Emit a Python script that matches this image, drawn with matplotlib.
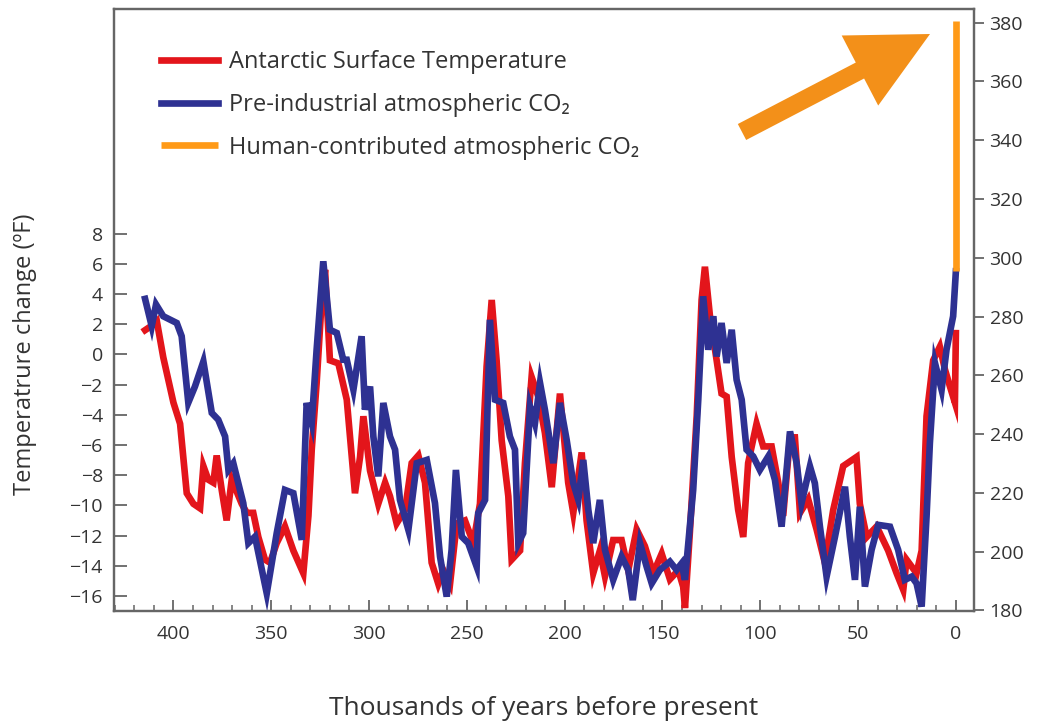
import numpy as np
import matplotlib
matplotlib.use("Agg")
import matplotlib.pyplot as plt
from matplotlib.patches import FancyArrow
from matplotlib.transforms import IdentityTransform

plt.rcParams["font.family"] = ["Open Sans", "DejaVu Sans"]

# Antarctic temperature (deg F) vs thousands of years before present
temp_kyr = [414.5, 411.1, 408.5, 405.2, 400.0, 396.6, 393.2, 389.8, 386.4, 384.7,
            382.2, 379.6, 377.9, 375.3, 372.8, 370.2, 365.1, 362.5, 359.2, 356.6,
            353.2, 350.6, 347.2, 343.0, 338.7, 333.6, 331.0, 329.3, 326.8, 324.2,
            322.5, 320.0, 315.7, 311.4, 307.2, 304.6, 302.9, 299.5, 295.3, 291.8,
            289.3, 285.9, 281.6, 278.2, 274.8, 271.4, 268.0, 264.6, 262.0, 258.6,
            255.2, 251.0, 246.7, 243.3, 239.9, 237.3, 234.8, 232.2, 228.8, 227.1,
            222.8, 220.3, 216.9, 213.5, 210.1, 206.6, 202.4, 198.2, 195.6, 191.3,
            188.8, 185.4, 182.0, 179.4, 175.2, 170.9, 167.5, 163.2, 159.0, 154.7,
            150.4, 146.2, 141.9, 139.4, 138.5, 136.0, 132.5, 130.0, 128.3, 125.7,
            122.3, 119.8, 117.2, 114.6, 111.3, 108.7, 106.2, 101.9, 98.5, 94.2,
            90.8, 88.3, 84.8, 82.3, 79.7, 75.5, 71.2, 67.0, 62.7, 57.6,
            50.8, 49.1, 45.6, 40.5, 34.6, 30.3, 26.9, 25.2, 20.1, 17.5,
            15.0, 11.6, 8.2, 5.6, 3.1, 0.5, 0.0]
temp_f = [1.6, 1.9, 2.2, -0.2, -3.2, -4.6, -9.2, -9.9, -10.2, -7.4,
          -8.3, -8.5, -6.7, -9.0, -11.0, -8.3, -9.9, -10.5, -10.5, -12.1,
          -13.6, -13.8, -12.5, -11.4, -13.0, -14.5, -10.7, -6.3, -1.9, 3.6,
          5.6, -0.4, -0.6, -3.0, -9.2, -6.8, -4.1, -7.7, -9.9, -8.5,
          -9.4, -11.2, -10.3, -7.2, -6.7, -8.5, -13.8, -15.2, -14.3, -15.2,
          -11.2, -11.0, -12.5, -9.9, -0.8, 3.6, -0.4, -5.7, -9.4, -13.6,
          -13.0, -7.2, -1.5, -2.8, -5.2, -8.8, -2.6, -8.5, -10.5, -6.5,
          -11.0, -14.5, -13.0, -14.7, -12.3, -12.3, -14.3, -11.6, -12.7, -14.5,
          -13.2, -14.9, -14.3, -15.4, -16.8, -11.8, -4.1, 3.6, 5.8, 2.5,
          -0.4, -2.6, -2.8, -6.8, -10.3, -12.1, -7.2, -4.6, -6.1, -6.1,
          -8.5, -10.7, -5.5, -5.5, -10.5, -9.6, -11.6, -13.8, -10.3, -7.4,
          -6.8, -9.9, -12.1, -11.4, -13.0, -14.5, -15.6, -13.6, -14.5, -13.0,
          -4.1, -0.4, 0.5, -1.0, -2.1, -3.2, 1.4]

# Pre-industrial CO2 (ppm)
co2_kyr = [414.5, 411.1, 408.9, 405.2, 398.3, 395.8, 392.4, 389.0, 384.7, 380.4,
           377.1, 373.6, 371.9, 369.4, 364.3, 361.7, 358.3, 352.3, 347.2, 343.0,
           338.7, 334.4, 331.9, 329.3, 326.8, 323.4, 320.0, 316.5, 313.2, 311.4,
           308.0, 303.8, 302.1, 299.5, 297.8, 295.3, 292.7, 289.3, 286.7, 284.2,
           279.9, 275.6, 270.5, 266.3, 263.7, 260.3, 257.8, 255.6, 252.6, 249.3,
           245.0, 244.2, 240.7, 238.2, 235.6, 231.4, 228.0, 225.4, 223.7, 221.2,
           217.7, 215.2, 212.6, 210.1, 205.8, 202.4, 199.0, 195.6, 193.0, 190.5,
           187.9, 185.4, 182.0, 179.4, 175.2, 170.9, 167.5, 165.2, 161.5, 158.1,
           155.5, 151.3, 146.2, 142.8, 140.2, 138.5, 136.8, 134.3, 131.7, 129.2,
           126.6, 124.0, 122.3, 119.8, 117.2, 114.6, 112.1, 109.5, 107.0, 103.6,
           100.2, 95.9, 92.5, 89.1, 84.8, 81.4, 78.9, 74.6, 72.1, 69.5,
           66.1, 61.8, 56.7, 54.2, 51.6, 49.1, 46.5, 43.1, 39.7, 33.7,
           29.5, 26.1, 22.6, 20.1, 17.5, 15.0, 13.3, 10.7, 7.3, 4.8,
           1.4, 0.0]
co2_ppm = [286.0, 276.7, 284.1, 280.1, 277.8, 273.3, 250.7, 256.2, 264.7, 247.2,
           244.9, 239.2, 227.8, 230.1, 216.5, 202.9, 205.1, 185.8, 206.3, 221.0,
           219.9, 204.0, 250.6, 243.7, 268.7, 298.8, 275.5, 274.4, 265.3, 265.3,
           255.1, 273.3, 248.3, 256.2, 239.2, 225.6, 250.6, 239.2, 234.7, 217.6,
           207.4, 230.1, 231.2, 216.5, 198.3, 184.7, 200.6, 227.8, 205.1, 202.9,
           194.9, 213.1, 217.6, 278.9, 251.7, 250.6, 239.2, 234.7, 202.9, 206.3,
           249.4, 243.7, 257.4, 248.3, 230.1, 250.6, 238.1, 223.3, 217.6, 231.2,
           214.2, 202.9, 217.6, 200.6, 190.4, 198.3, 193.8, 183.5, 202.9, 194.9,
           189.2, 193.8, 196.6, 193.8, 196.0, 190.4, 202.9, 221.0, 251.7, 286.9,
           268.7, 280.1, 266.4, 277.8, 264.2, 275.5, 258.5, 251.7, 234.7, 232.4,
           227.8, 232.4, 224.4, 208.5, 240.9, 230.1, 216.5, 229.0, 223.3, 208.5,
           191.5, 205.1, 222.1, 205.1, 190.4, 215.3, 188.1, 200.6, 209.1, 208.5,
           200.6, 190.4, 191.5, 189.2, 181.3, 211.9, 236.9, 264.2, 255.1, 268.7,
           280.1, 295.4]

# Human-contributed CO2 (ppm)
human_kyr = [0.0, 0.0]
human_ppm = [295.4, 380.5]

red = "#e3151b"
blue = "#2e3192"
orange = "#ff9a17"
arrow_orange = "#f39019"
grey = "#666666"
txt = "#333333"

fig = plt.figure(figsize=(10.39, 7.23), dpi=100)
ax = fig.add_axes([0.1097, 0.1549, 0.8280, 0.8333])
ax2 = ax.twinx()

l1, = ax.plot(temp_kyr, temp_f, color=red, lw=4.8, solid_joinstyle="miter",
              label="Antarctic Surface Temperature")
l2, = ax2.plot(co2_kyr, co2_ppm, color=blue, lw=4.8, solid_joinstyle="miter",
               label="Pre-industrial atmospheric CO\u2082")
l3, = ax2.plot(human_kyr, human_ppm, color=orange, lw=4.8, solid_capstyle="butt",
               label="Human-contributed atmospheric CO\u2082")

ax.set_xlim(430.4, -9.4)
ax.set_ylim(-17.0, 22.9)
ax2.set_ylim(179.8, 384.8)

ax.set_xticks(np.arange(0, 401, 50))
ax.set_xticks(np.arange(0, 431, 10), minor=True)
ax.set_yticks(np.arange(-16, 9, 2))
ax2.set_yticks(np.arange(180, 381, 20))

for a in (ax, ax2):
    for s in a.spines.values():
        s.set_color(grey)
        s.set_linewidth(1.6)

ax.tick_params(axis="x", which="major", direction="in", length=8, width=1.3,
               color=grey, labelsize=14, labelcolor=txt, pad=10)
ax.tick_params(axis="x", which="minor", direction="in", length=4, width=1.1,
               color=grey)
ax.tick_params(axis="y", direction="in", length=9, width=1.3, color=grey,
               labelsize=14, labelcolor=txt, pad=8)
ax2.tick_params(axis="y", direction="out", length=7, width=1.3, color=grey,
                labelsize=14, labelcolor=txt, pad=4)

ax.set_xlabel("Thousands of years before present", fontsize=19, color=txt,
              labelpad=38)
fig.text(0.024, 0.51, "Temperatrure change (\u00baF)", rotation=90,
         fontsize=17, color=txt, ha="center", va="center")

leg = ax2.legend(handles=[l1, l2, l3], loc="upper left",
                 bbox_to_anchor=(0.044, 0.947), frameon=False, fontsize=17,
                 handlelength=2.4, handletextpad=0.45, labelspacing=0.8,
                 borderaxespad=0)
for t in leg.get_texts():
    t.set_color(txt)

arrow = FancyArrow(742, 591, 188, 98, width=18, head_width=79, head_length=79,
                   length_includes_head=True, color=arrow_orange, lw=0,
                   transform=IdentityTransform())
fig.patches.append(arrow)

fig.savefig("out.png", dpi=100)
